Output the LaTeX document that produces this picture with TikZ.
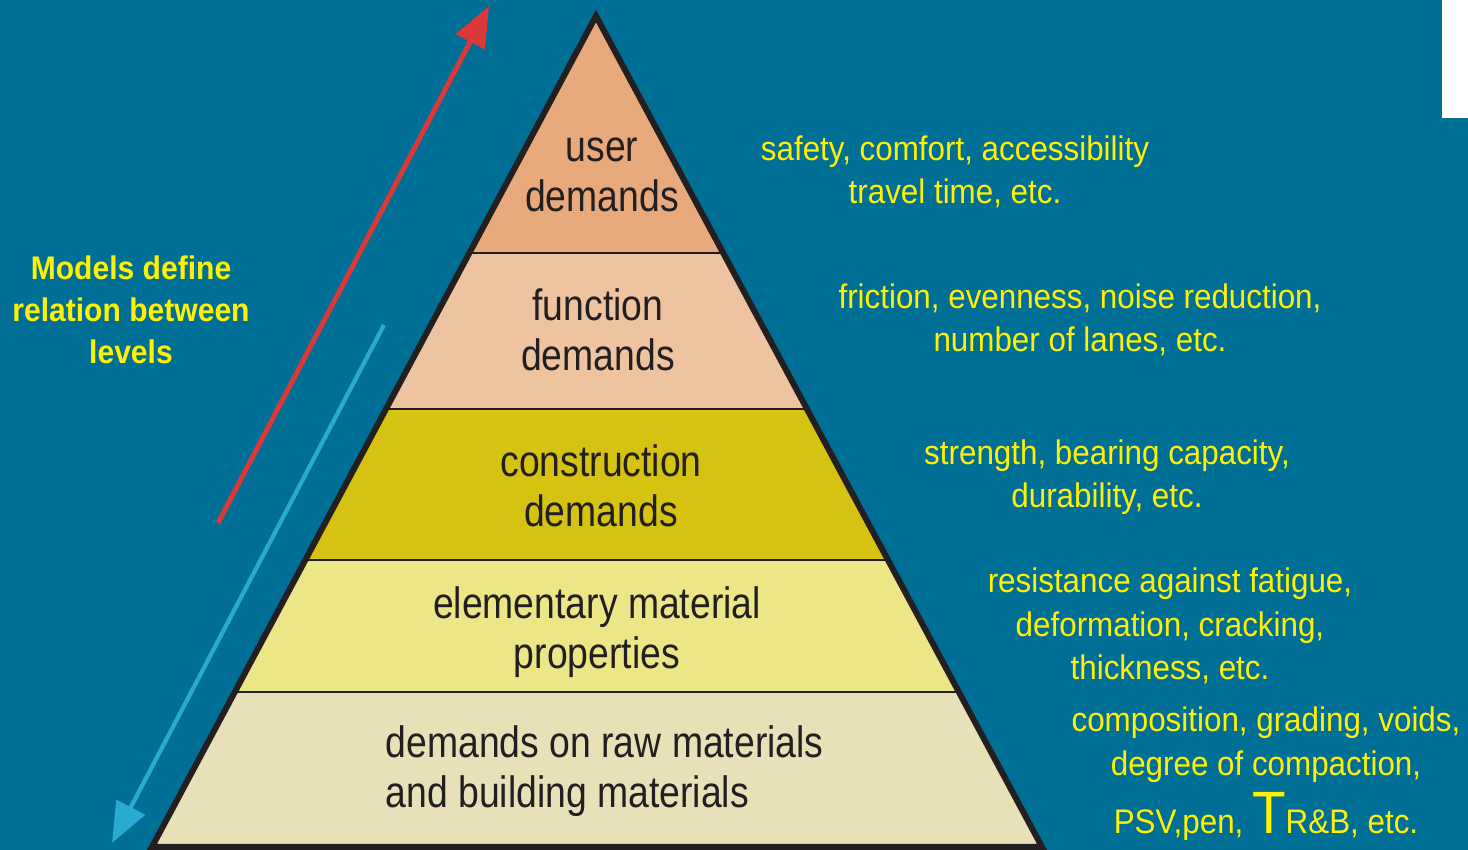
\documentclass[tikz,border=0pt]{standalone}
\usepackage{fontspec}
\setmainfont{Liberation Sans}
\newfontfamily\pyrfont{Liberation Sans}[FakeStretch=0.85]
\newfontfamily\sidefont{Liberation Sans}[FakeStretch=0.92]
\usetikzlibrary{calc,arrows.meta}
\definecolor{slidebg}{RGB}{0,111,150}
\definecolor{userc}{RGB}{232,170,125}
\definecolor{funcc}{RGB}{238,196,160}
\definecolor{constc}{RGB}{214,194,16}
\definecolor{elemc}{RGB}{236,230,134}
\definecolor{rawc}{RGB}{232,225,184}
\definecolor{outc}{RGB}{35,31,32}
\definecolor{sideyellow}{RGB}{255,242,0}
\definecolor{redarrow}{RGB}{221,56,56}
\definecolor{bluearrow}{RGB}{41,170,210}
\begin{document}
\begin{tikzpicture}[
  level/.style={inner sep=0pt, align=center, text=outc, font=\pyrfont\fontsize{12.5}{14.2}\selectfont},
  remark/.style={inner sep=0pt, align=center, text=sideyellow, font=\sidefont\fontsize{9.7}{12.3}\selectfont},
  divider/.style={draw=outc, line width=0.6pt},
  outline/.style={draw=outc, line width=1.7pt, line join=miter}]
\useasboundingbox (0,0) rectangle (14.68,8.5);
\fill [slidebg] (0,0) rectangle (14.68,8.5);
\fill [white] (14.42,7.32) rectangle (14.68,8.5);
% pyramid corners
\coordinate (apex) at (5.96,8.34);
\coordinate (bl) at (1.52,0.03);
\coordinate (br) at (10.42,0.03);
\foreach \t [count=\i] in {0.1865,0.3454,0.5271,0.7148} {
  \coordinate (l\i) at ($(bl)!\t!(apex)$);
  \coordinate (r\i) at ($(br)!\t!(apex)$);
}
\fill [rawc] (bl) -- (br) -- (r1) -- (l1) -- cycle;
\fill [elemc] (l1) -- (r1) -- (r2) -- (l2) -- cycle;
\fill [constc] (l2) -- (r2) -- (r3) -- (l3) -- cycle;
\fill [funcc] (l3) -- (r3) -- (r4) -- (l4) -- cycle;
\fill [userc] (l4) -- (r4) -- (apex) -- cycle;
\draw [divider] (l1) -- (r1) (l2) -- (r2) (l3) -- (r3) (l4) -- (r4);
\draw [outline] (bl) -- (br) -- (apex) -- cycle;
% arrows
\coordinate (redtail) at (2.18,3.27);
\coordinate (redtip) at (4.89,8.44);
\coordinate (bluetail) at (3.84,5.25);
\coordinate (bluetip) at (1.12,0.07);
\draw [-{Triangle[length=11.5pt,width=9pt]}, redarrow, line width=1.4pt] (redtail) -- (redtip);
\draw [-{Triangle[length=11.5pt,width=9pt]}, bluearrow, line width=1.2pt] (bluetail) -- (bluetip);
% levels
\node (user) at (6.02,6.75) [level] {user\\demands};
\node (function) at (5.98,5.20) [level] {function\\demands};
\node (construction) at (6.01,3.64) [level] {construction\\demands};
\node (elementary) at (5.97,2.18) [level] {elementary material\\properties};
\node (raw) at (3.85,0.79) [level, anchor=west, align=left] {demands on raw materials\\and building materials};
% remarks
\node (userrem) at (9.55,6.78) [remark] {safety, comfort, accessibility\\travel time, etc.};
\node (funcrem) at (10.80,5.30) [remark] {friction, evenness, noise reduction,\\number of lanes, etc.};
\node (constrem) at (11.07,3.73) [remark] {strength, bearing capacity,\\durability, etc.};
\node (elemrem) at (11.70,2.24) [remark] {resistance against fatigue,\\deformation, cracking,\\thickness, etc.};
\node (rawrem) at (12.66,0.76) [remark] {composition, grading, voids,\\degree of compaction,\\[2pt]PSV,pen, {\fontsize{17}{12}\selectfont T}R\&B, etc.};
\node (models) at (1.31,5.40) [remark, font=\sidefont\bfseries\fontsize{9.3}{12}\selectfont] {Models define\\relation between\\levels};
\end{tikzpicture}
\end{document}
